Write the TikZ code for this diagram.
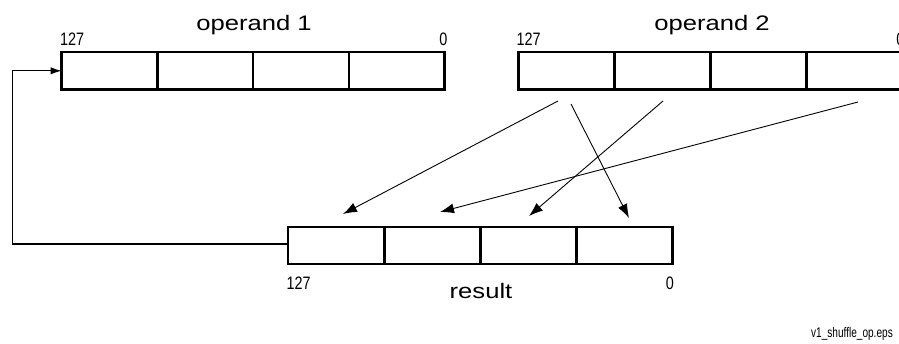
\documentclass[tikz,border=0pt]{standalone}
\usepackage{fontspec}
\setmainfont{Liberation Sans}
\newfontfamily\widefont[FakeStretch=1.22]{Liberation Sans}
\newfontfamily\numfont[FakeStretch=0.8]{Liberation Sans}
\newfontfamily\tagfont[FakeStretch=0.72]{Liberation Sans}
\usetikzlibrary{arrows.meta}
\begin{document}
\begin{tikzpicture}[x=1pt,y=-1pt,
  cell/.style={draw, line width=2.6pt, minimum width=95.8pt, minimum height=37.3pt, inner sep=0pt, outer sep=0pt},
  title/.style={font=\widefont\fontsize{21}{24}\selectfont, inner sep=0pt, anchor=base},
  bitno/.style={font=\numfont\fontsize{18}{20}\selectfont, inner sep=0pt},
  shuf/.style={line width=0.9pt, -{Latex[length=14pt,width=10pt]}},
  back/.style={line width=1.2pt, -{Latex[length=11pt,width=7.5pt]}}]
\useasboundingbox (0,0) rectangle (899,343);
\clip (0,0) rectangle (899,343);
% operand 1
\node[cell] (a0) at (109.4,70.8) {};
\node[cell] (a1) at (205.2,70.8) {};
\node[cell] (a2) at (301.0,70.8) {};
\node[cell] (a3) at (396.8,70.8) {};
% operand 2
\node[cell] (b0) at (566.2,70.8) {};
\node[cell] (b1) at (662.3,70.8) {};
\node[cell] (b2) at (758.5,70.8) {};
\node[cell] (b3) at (854.7,70.8) {};
% result
\node[cell] (r0) at (335.9,245.5) {};
\node[cell] (r1) at (432.3,245.5) {};
\node[cell] (r2) at (528.5,245.5) {};
\node[cell] (r3) at (624.7,245.5) {};
% labels
\node[title] (t1) at (254,30) {operand 1};
\node[title] (t2) at (712,30) {operand 2};
\node[title] (t3) at (481,298) {result};
\node[bitno, anchor=base west] (n1) at (60,45) {127};
\node[bitno, anchor=base east] (n2) at (447.5,45) {0};
\node[bitno, anchor=base west] (n3) at (516.5,45) {127};
\node[bitno, anchor=base east] (n4) at (904.5,45) {0};
\node[bitno, anchor=base west] (n5) at (286.5,289) {127};
\node[bitno, anchor=base east] (n6) at (674,289) {0};
\node[font=\tagfont\fontsize{14}{16}\selectfont, inner sep=0pt, anchor=base east] (tag) at (893,337) {v1\_shuffle\_op.eps};
% shuffle connectors
\coordinate (s1) at (558,101);
\coordinate (s2) at (571,104);
\coordinate (s3) at (663,101);
\coordinate (s4) at (858,102);
\coordinate (e1) at (343,214);
\coordinate (e2) at (629,218);
\coordinate (e3) at (529,216);
\coordinate (e4) at (440,212);
\draw[shuf] (s1) -- (e1);
\draw[shuf] (s2) -- (e2);
\draw[shuf] (s3) -- (e3);
\draw[shuf] (s4) -- (e4);
% feedback
\coordinate (c1) at (12.7,244);
\draw[back] (r0.west |- c1) -- (c1) |- (a0.west);
\end{tikzpicture}
\end{document}
